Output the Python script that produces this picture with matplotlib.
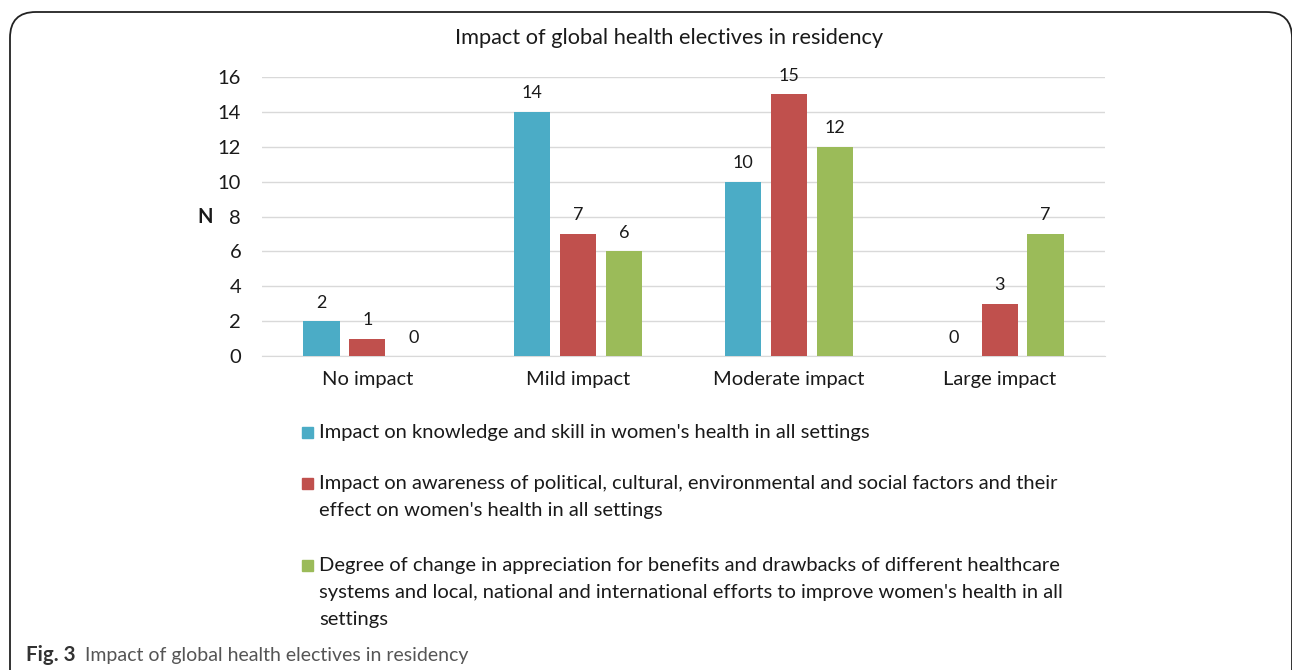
import matplotlib
matplotlib.use("Agg")
import matplotlib.pyplot as plt
from matplotlib.patches import Rectangle, FancyBboxPatch
import numpy as np

plt.rcParams['font.family'] = ['Lato', 'DejaVu Sans']

categories = ["No impact", "Mild impact", "Moderate impact", "Large impact"]
knowledge = [2, 14, 10, 0]
awareness = [1, 7, 15, 3]
appreciation = [0, 6, 12, 7]
series_labels = [
    "Impact on knowledge and skill in women's health in all settings",
    "Impact on awareness of political, cultural, environmental and social factors and their\n"
    "effect on women's health in all settings",
    "Degree of change in appreciation for benefits and drawbacks of different healthcare\n"
    "systems and local, national and international efforts to improve women's health in all\n"
    "settings",
]
colors = ["#4BACC6", "#C0504D", "#9BBB59"]
yticks = [0, 2, 4, 6, 8, 10, 12, 14, 16]

W, H = 1292, 670
txt = "#1a1a1a"
fig = plt.figure(figsize=(W / 100, H / 100), dpi=100)
ax = fig.add_axes([262 / W, 1 - 356 / H, (1105 - 262) / W, (356 - 77) / H])

x = np.arange(len(categories))
width = 0.172
step = 0.218
for i, (vals, c) in enumerate(zip([knowledge, awareness, appreciation], colors)):
    bars = ax.bar(x + (i - 1) * step, vals, width, color=c, zorder=3)
    for b, v in zip(bars, vals):
        ax.annotate(str(v), (b.get_x() + b.get_width() / 2, v), xytext=(0, 20),
                    textcoords="offset pixels", ha="center", va="center_baseline",
                    fontsize=13, color=txt)

ax.set_xlim(-0.5, 3.5)
ax.set_ylim(0, 16)
ax.set_yticks(yticks)
ax.set_xticks(x)
ax.set_xticklabels(categories, fontsize=14.5, color=txt)
ax.tick_params(axis="y", labelsize=14.5, labelcolor=txt, length=0, pad=15)
ax.tick_params(axis="x", length=0, pad=11)
ax.grid(axis="y", color="#D9D9D9", linewidth=1, zorder=0)
for s in ["top", "right", "left"]:
    ax.spines[s].set_visible(False)
ax.spines["bottom"].set_color("#D9D9D9")
fig.text(205 / W, 1 - 217 / H, "N", ha="center", va="center", fontsize=14.5,
         fontweight="bold", color=txt)

fig.text(669 / W, 1 - 38 / H, "Impact of global health electives in residency",
         ha="center", va="center", fontsize=15.7, color=txt)

# legend drawn by hand so the swatch sits on the first line of each entry
entry_y = [432, 483, 565]
for c, label, y in zip(colors, series_labels, entry_y):
    fig.patches.append(Rectangle((302 / W, 1 - (y + 6) / H), 11 / W, 11 / H,
                                 transform=fig.transFigure, color=c))
    fig.text(319 / W, 1 - (y - 8) / H, label, ha="left", va="top", fontsize=14.5,
             color=txt, linespacing=1.72)

fig.text(26 / W, 1 - 655 / H, "Fig. 3", ha="left", va="center", fontsize=14.8,
         fontweight="bold", color="#333333")
fig.text(85 / W, 1 - 655 / H, "Impact of global health electives in residency", ha="left",
         va="center", fontsize=14, color="#555555")

border = FancyBboxPatch((10 / W, -0.1), 1282 / W, 1.1 - 12 / H,
                        boxstyle="round,pad=0,rounding_size=0.02", transform=fig.transFigure,
                        fill=False, edgecolor="#222222", linewidth=1.3, clip_on=False,
                        mutation_aspect=W / H)
fig.patches.append(border)

fig.savefig("out.png", dpi=100)
